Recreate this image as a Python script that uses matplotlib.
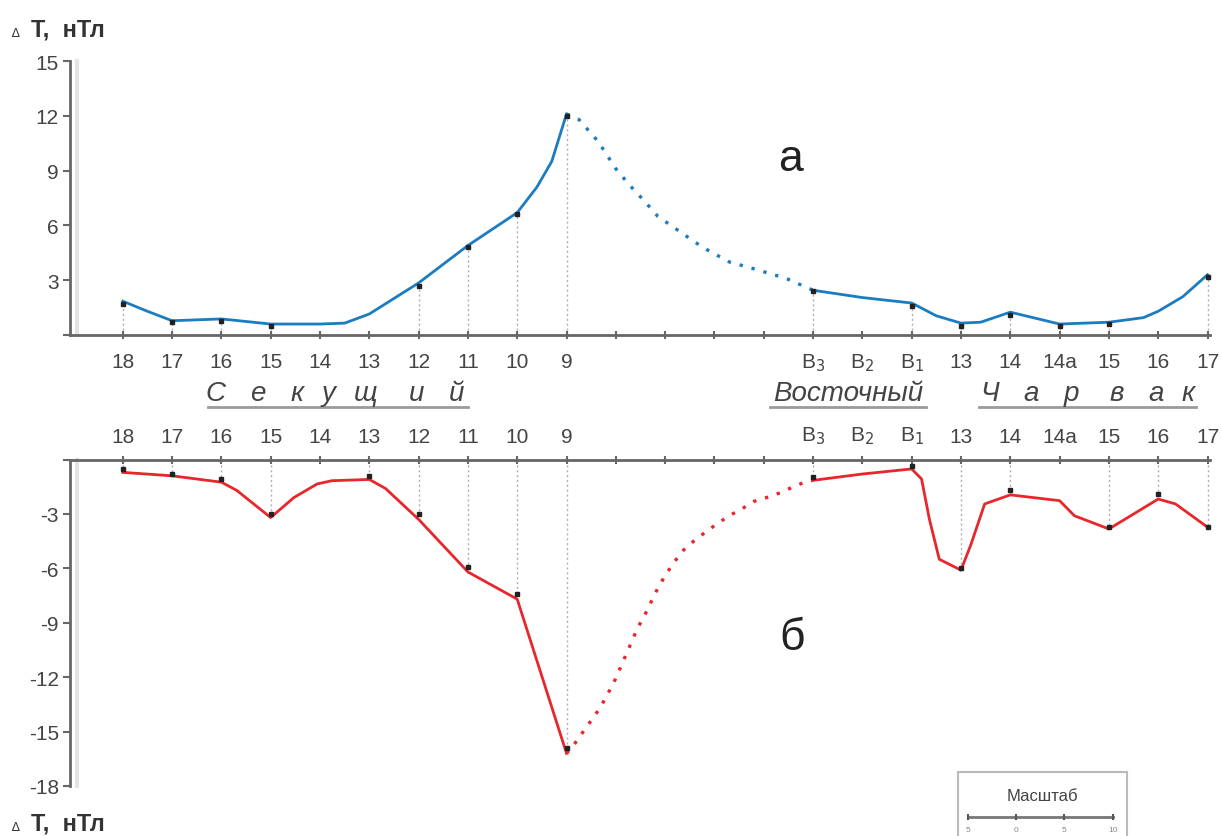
"""
Магнитные профили ΔT (а — верх, б — низ) по профилям Секущий / Восточный / Чарвак
"""
import matplotlib
matplotlib.use("Agg")
import matplotlib.pyplot as plt
from matplotlib.lines import Line2D

plt.rcParams['font.family'] = ['Liberation Sans', 'DejaVu Sans']

# ─── данные ─────────────────────────────────────────────
# подписи пикетов вдоль оси (позиция = индекс)
station_labels = ['18', '17', '16', '15', '14', '13', '12', '11', '10', '9',
                  '', '', '', '',
                  'В$_3$', 'В$_2$', 'В$_1$', '13', '14', '14а', '15', '16', '17']

# (а) верхний график, синий
top_solid1_x = [0, 0.5, 1, 2, 3, 4, 4.5, 5, 6, 7, 8, 8.4, 8.7, 9]
top_solid1_y = [1.85, 1.3, 0.78, 0.88, 0.6, 0.6, 0.65, 1.15, 2.85, 4.9, 6.7, 8.1, 9.5, 12.1]
top_dot_x = [9, 9.25, 9.64, 10.0, 10.28, 10.59, 10.85, 11.33, 11.76, 12.3, 12.83, 13.45, 14]
top_dot_y = [12.1, 11.8, 10.6, 9.1, 8.2, 7.3, 6.5, 5.6, 4.8, 4.0, 3.6, 3.1, 2.45]
top_solid2_x = [14, 15, 16, 16.5, 17, 17.4, 18, 19, 20, 20.7, 21, 21.5, 22]
top_solid2_y = [2.45, 2.05, 1.75, 1.05, 0.65, 0.7, 1.25, 0.6, 0.7, 0.95, 1.3, 2.1, 3.3]
top_mark_x = [0, 1, 2, 3, 6, 7, 8, 9, 14, 16, 17, 18, 19, 20, 22]
top_mark_y = [1.7, 0.7, 0.75, 0.5, 2.7, 4.8, 6.6, 12.0, 2.4, 1.6, 0.5, 1.1, 0.5, 0.6, 3.2]

# (б) нижний график, красный
bot_solid1_x = [0, 1, 2, 2.31, 3, 3.47, 3.94, 4.24, 5, 5.33, 6, 7, 8, 9]
bot_solid1_y = [-0.71, -0.9, -1.25, -1.7, -3.2, -2.1, -1.35, -1.17, -1.1, -1.6, -3.3, -6.2, -7.7, -16.2]
bot_dot_x = [9, 9.13, 9.68, 9.96, 10.2, 10.44, 10.6, 10.85, 11.0, 11.17, 11.37, 11.58,
             11.82, 12.05, 12.3, 12.57, 12.81, 13.09, 13.37, 13.6, 13.9, 14]
bot_dot_y = [-16.2, -15.8, -13.7, -12.3, -10.8, -9.3, -8.5, -7.1, -6.4, -5.7, -5.0, -4.5,
             -4.0, -3.55, -3.1, -2.7, -2.3, -2.07, -1.8, -1.5, -1.17, -1.15]
bot_solid2_x = [14, 15, 16, 16.2, 16.36, 16.56, 17, 17.2, 17.48, 18, 19, 19.3, 20, 21, 21.35, 22]
bot_solid2_y = [-1.15, -0.8, -0.52, -1.07, -3.3, -5.5, -6.1, -4.7, -2.45, -1.95, -2.27, -3.1,
                -3.83, -2.18, -2.45, -3.73]
bot_mark_x = [0, 1, 2, 3, 5, 6, 7, 8, 9, 14, 16, 17, 18, 20, 21, 22]
bot_mark_y = [-0.5, -0.8, -1.07, -3.0, -0.9, -3.0, -5.9, -7.4, -15.9, -0.96, -0.34, -6.0,
              -1.7, -3.7, -1.9, -3.7]

top_yticks = [0, 3, 6, 9, 12, 15]
top_yticklabels = ['', '3', '6', '9', '12', '15']
bot_yticks = [0, -3, -6, -9, -12, -15, -18]
bot_yticklabels = ['', '-3', '-6', '-9', '-12', '-15', '-18']

scale_labels = ['5', '0', '5', '10']

# ─── оформление ─────────────────────────────────────────
W, H = 1221, 837
BLUE = '#1b7cc0'
RED = '#e8262b'
AXC = '#666666'
TXT = '#444444'
GUIDE = '#b0b0b0'
DOTS = (0, (1, 2.7))


def fx(px):
    return px / W


def fy(py):
    return 1 - py / H


def style_axis(ax, top):
    for s in ax.spines.values():
        s.set_visible(False)
    ax.spines['left'].set_visible(True)
    ax.spines['left'].set_color(AXC)
    ax.spines['left'].set_linewidth(2)
    xs = 'top' if top else 'bottom'
    ax.spines[xs].set_visible(True)
    ax.spines[xs].set_color(AXC)
    ax.spines[xs].set_linewidth(2)
    ax.set_xlim(-1.07, 22.05)
    ax.set_xticks(range(len(station_labels)))
    ax.set_xticklabels(station_labels, fontsize=15, color=TXT)
    ax.tick_params(axis='x', direction='inout', length=6, width=1.5, colors=AXC,
                   labelcolor=TXT, pad=9)
    ax.tick_params(axis='y', direction='out', length=5, width=1.5, colors=AXC,
                   labelcolor=TXT, labelsize=15, pad=3)
    # светлая тень вдоль оси
    ax.plot([0.006, 0.006], [0, 1], transform=ax.transAxes, color='#e4e4e4',
            lw=3, clip_on=False, zorder=0)


fig = plt.figure(figsize=(W / 100, H / 100), dpi=100)

# ── (а) ──
ax1 = fig.add_axes([fx(70), fy(336), fx(1140), (336 - 62) / H])
style_axis(ax1, top=False)
ax1.set_ylim(0, 15)
ax1.set_yticks(top_yticks)
ax1.set_yticklabels(top_yticklabels)
for x, y in zip(top_mark_x, top_mark_y):
    ax1.plot([x, x], [0, y], color=GUIDE, lw=1, ls=(0, (1.5, 2)), zorder=1)
ax1.plot(top_solid1_x, top_solid1_y, color=BLUE, lw=2, zorder=3)
ax1.plot(top_dot_x, top_dot_y, color=BLUE, lw=2.4, ls=DOTS, zorder=3)
ax1.plot(top_solid2_x, top_solid2_y, color=BLUE, lw=2, zorder=3)
ax1.plot(top_mark_x, top_mark_y, 's', color='#222222', ms=2.5, zorder=4, clip_on=False)

# ── (б) ──
ax2 = fig.add_axes([fx(70), fy(787), fx(1140), (787 - 460.5) / H])
style_axis(ax2, top=True)
ax2.xaxis.set_ticks_position('top')
ax2.xaxis.set_label_position('top')
ax2.tick_params(axis='x', pad=7)
ax2.set_ylim(-18, 0)
ax2.set_yticks(bot_yticks)
ax2.set_yticklabels(bot_yticklabels)
for x, y in zip(bot_mark_x, bot_mark_y):
    ax2.plot([x, x], [0, y], color=GUIDE, lw=1, ls=(0, (1.5, 2)), zorder=1)
ax2.plot(bot_solid1_x, bot_solid1_y, color=RED, lw=2, zorder=3)
ax2.plot(bot_dot_x, bot_dot_y, color=RED, lw=2.4, ls=DOTS, zorder=3)
ax2.plot(bot_solid2_x, bot_solid2_y, color=RED, lw=2, zorder=3)
ax2.plot(bot_mark_x, bot_mark_y, 's', color='#222222', ms=2.5, zorder=4, clip_on=False)

# ── подписи осей ──
for ypx in (30, 824):
    fig.text(fx(12), fy(ypx + 4), '∆', fontsize=9, color='#333333', va='center')
    fig.text(fx(31), fy(ypx), 'T,  нТл', fontsize=17, fontweight='bold',
             color='#333333', va='center')

fig.text(fx(790), fy(160), 'а', fontsize=32, color='#222222', ha='center', va='center',
         family=['Liberation Sans Narrow', 'Liberation Sans'])
fig.text(fx(792), fy(638), 'б', fontsize=32, color='#222222', ha='center', va='center',
         family=['Liberation Sans Narrow', 'Liberation Sans'])

# ── названия профилей (разрядка — по буквам) ──
sekush = list('Секущий')
sekush_px = [215, 258, 297, 329, 366, 417, 457]
charvak = list('Чарвак')
charvak_px = [990, 1031, 1071, 1117, 1156, 1188]
for ch, xp in list(zip(sekush, sekush_px)) + list(zip(charvak, charvak_px)):
    fig.text(fx(xp), fy(394), ch, fontsize=20, style='italic', color=TXT,
             ha='center', va='center')
fig.text(fx(848), fy(394), 'Восточный', fontsize=20, style='italic', color=TXT,
         ha='center', va='center')
for x0, x1 in [(208, 468), (770, 926), (979, 1196)]:
    fig.add_artist(Line2D([fx(x0), fx(x1)], [fy(408), fy(408)], color='#9a9a9a', lw=2))

# ── масштаб ──
sax = fig.add_axes([fx(958), fy(845), fx(1127 - 958), (845 - 773) / H])
sax.set_xlim(0, 1)
sax.set_ylim(0, 1)
sax.set_xticks([])
sax.set_yticks([])
for s in sax.spines.values():
    s.set_color('#bbbbbb')
    s.set_linewidth(1.5)
sax.text(0.5, 0.68, 'Масштаб', fontsize=12, color=TXT, ha='center', va='center',
         family=['Liberation Sans Narrow', 'Liberation Sans'])
sx = [0.06, 0.345, 0.63, 0.915]
sax.plot([sx[0], sx[-1]], [0.38, 0.38], color='#777777', lw=2)
sax.plot(sx, [0.38] * 4, '|', color='#555555', ms=5, mew=1.5)
for x, lab in zip(sx, scale_labels):
    sax.text(x, 0.2, lab, fontsize=6, color='#888888', ha='center', va='center')

fig.savefig('out.png', dpi=100)
